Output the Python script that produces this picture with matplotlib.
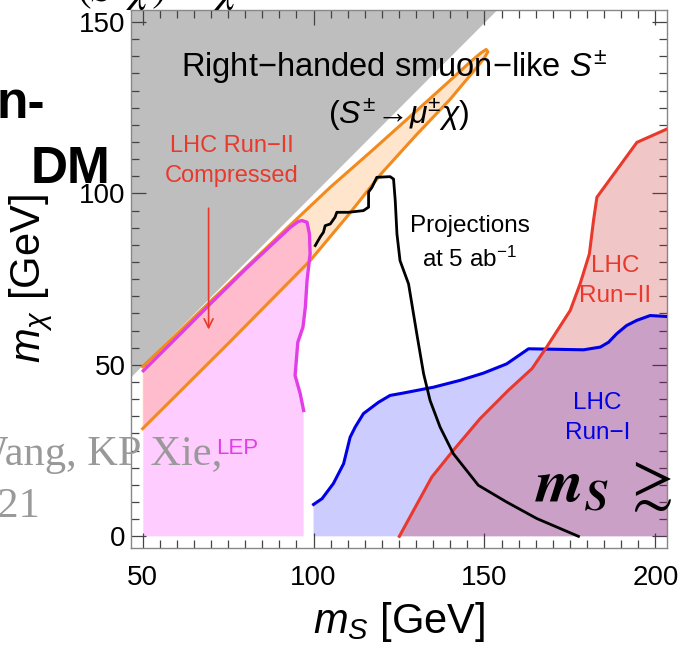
import matplotlib
matplotlib.use("Agg")
import matplotlib.pyplot as plt
from matplotlib.ticker import MultipleLocator

plt.rcParams['font.family'] = ['Liberation Sans', 'DejaVu Sans']
plt.rcParams['mathtext.fontset'] = 'custom'
plt.rcParams['mathtext.rm'] = 'Liberation Sans'
plt.rcParams['mathtext.it'] = 'Liberation Sans:italic'
plt.rcParams['mathtext.bf'] = 'Liberation Sans:bold'

# kinematic boundary m_chi = m_S (gray region above it)
diag = [40, 210]

# compressed-spectrum band (LHC Run-II compressed), upper edge then lower edge back
band_x = [50, 60, 70, 80, 93, 105, 117, 130, 140, 146, 149, 150.5,
          151.0, 150.0, 147.8, 140, 130, 120, 110, 99, 75, 50]
band_y = [49.5, 59.0, 68.7, 78.2, 90.6, 101.9, 112.4, 124.0, 133.0, 138.5, 141.0, 142.0,
          141.3, 139.6, 136.8, 127.5, 117.0, 106.0, 93.5, 80.4, 56.2, 31.4]

# LEP exclusion contour
lep_x = [50.2, 60.1, 70, 80, 93.2, 95.5, 96.6, 98.1, 98.8, 99.0, 98.1, 97.6, 96.9, 95.4, 94.6, 96.1, 97.1]
lep_y = [48.3, 58.1, 68.0, 77.8, 90.1, 91.8, 92.1, 91.6, 88.2, 82.4, 74.6, 66.8, 61.0, 56.6, 46.9, 41.6, 36.7]
lep_right = 97.1

# LHC Run-I exclusion contour
run1_x = [100.0, 102.5, 105.8, 108.8, 110.7, 112.2, 114.6, 119.0, 122.4, 126.3, 135.1, 142.9,
          149.7, 156.5, 162.9, 179.0, 183.9, 186.3, 188.7, 191.6, 194.6, 198.5, 203.4]
run1_y = [9.3, 11.0, 15.4, 21.2, 28.9, 31.9, 35.8, 39.1, 41.1, 41.8, 43.5, 45.5,
          47.6, 50.3, 54.7, 54.4, 55.2, 56.6, 59.1, 61.5, 63.0, 64.4, 64.1]

# LHC Run-II exclusion contour
run2_x = [125.1, 134.6, 140.9, 148.7, 157.0, 163.9, 168.2, 175.1, 178.0, 180.7, 181.9, 182.9, 194.6, 203.4]
run2_y = [0.0, 17.3, 25.1, 34.3, 42.6, 48.9, 55.2, 65.9, 73.7, 82.4, 92.1, 98.9, 114.9, 118.8]

# projection at 5 ab^-1
proj_x = [100.5, 102.0, 102.9, 103.4, 104.9, 106.3, 106.8, 110.2, 114.6, 116.1, 116.1, 117.1, 118.5,
          122.4, 123.4, 123.9, 124.4, 125.3, 127.8, 130.2, 132.2, 134.1, 137.0, 140.9, 148.2,
          156.5, 165.3, 177.5]
proj_y = [84.8, 87.4, 88.7, 90.6, 91.1, 93.1, 94.5, 94.5, 95.0, 96.0, 100.4, 101.8, 104.7,
          104.9, 104.2, 97.9, 88.2, 80.4, 73.6, 59.1, 47.4, 39.6, 31.9, 24.1, 14.9,
          10.0, 5.2, 0.0]

fig = plt.figure(figsize=(6.83, 6.48), dpi=100)
ax = fig.add_axes([131 / 683, 100 / 648, 536 / 683, 538 / 648])

ax.fill_between(diag, diag, 200, color='#bebebe', lw=0, zorder=1)
ax.fill(lep_x + [lep_right, lep_x[0]], lep_y + [0, 0], color=(1, 0, 1), alpha=0.2, lw=0, zorder=2)
ax.fill(band_x, band_y, color=(1, 0.5, 0), alpha=0.2, lw=0, zorder=3)
ax.fill(run1_x + [run1_x[-1], run1_x[0]], run1_y + [0, 0], color=(0, 0, 1), alpha=0.2, lw=0, zorder=2)
ax.fill(run2_x + [run2_x[-1]], run2_y + [0], color=(0.78, 0.12, 0.12), alpha=0.25, lw=0, zorder=3)

ax.plot(band_x, band_y, color='#f28a1e', lw=2.2, zorder=4)
ax.plot(lep_x, lep_y, color='#e23ee6', lw=2.4, zorder=5)
ax.plot(run1_x, run1_y, color='#0000e6', lw=2.2, zorder=5)
ax.plot(run2_x, run2_y, color='#e8392c', lw=2.2, zorder=5)
ax.plot(proj_x, proj_y, color='black', lw=2.0, zorder=6)

ax.annotate('', xy=(69.3, 59.5), xytext=(69.3, 96.5),
            arrowprops=dict(arrowstyle='->', color='#e8392c', lw=1.2, mutation_scale=16), zorder=7)

ax.text(123.4, 136.8, r'Right$-$handed smuon$-$like $S^{\pm}$', fontsize=23.5, ha='center', va='center', zorder=8)
ax.text(124.8, 123.0, r'($S^{\pm}\!\rightarrow\!\mu^{\pm}\chi$)', fontsize=23, ha='center', va='center', zorder=8)
ax.text(76, 109.5, 'LHC Run\u2212II\nCompressed', fontsize=17, color='#e8392c', ha='center', va='center',
        linespacing=1.45, zorder=8)
ax.text(145.7, 85.5, 'Projections\nat 5 ab$^{-1}$', fontsize=17.5, ha='center', va='center',
        linespacing=1.5, zorder=8)
ax.text(188.2, 74.5, 'LHC\nRun\u2212II', fontsize=17.5, color='#e8392c', ha='center', va='center',
        linespacing=1.45, zorder=8)
ax.text(183.0, 34.5, 'LHC\nRun\u2212I', fontsize=17.5, color='#0000e6', ha='center', va='center',
        linespacing=1.45, zorder=8)
ax.text(77.8, 25.5, 'LEP', fontsize=16, color='#e23ee6', ha='center', va='center', zorder=8)

ax.set_xlim(46.6, 203.4)
ax.set_ylim(-3.4, 153.5)
ax.set_xticks([50, 100, 150, 200])
ax.set_yticks([0, 50, 100, 150])
ax.xaxis.set_minor_locator(MultipleLocator(5))
ax.yaxis.set_minor_locator(MultipleLocator(5))
ax.tick_params(which='both', direction='in', top=True, right=True, color='#444444', width=0.9)
ax.tick_params(which='major', length=11, labelsize=20)
ax.tick_params(axis='x', which='major', pad=12)
ax.tick_params(axis='y', which='major', pad=4)
ax.tick_params(which='minor', length=5.5)
for sp in ax.spines.values():
    sp.set_color('#888888')
    sp.set_linewidth(1.0)

ax.set_xlabel(r'$m_S$ [GeV]', fontsize=30)
ax.set_ylabel(r'$m_\chi$ [GeV]', fontsize=30)
ax.xaxis.set_label_coords(0.5, -0.097)
ax.yaxis.set_label_coords(-0.142, 0.5)

# slide text around the figure
fig.text(45 / 683, 1 - 118 / 648, 'n-', fontsize=37, fontweight='bold', ha='right', va='baseline', zorder=10)
fig.text(110 / 683, 1 - 183 / 648, 'DM', fontsize=37, fontweight='bold', ha='right', va='baseline', zorder=10)
fig.text(222 / 683, 1 - 465 / 648, 'Wang, KP Xie,', fontsize=30.5, family='Liberation Serif',
         color='#999999', ha='right', va='baseline', zorder=10)
fig.text(40 / 683, 1 - 517 / 648, '2021', fontsize=30.5, family='Liberation Serif',
         color='#999999', ha='right', va='baseline', zorder=10)
fig.text(535 / 683, 1 - 502 / 648, r'$\mathbfit{m}_{\mathbfit{S}}\;\gtrsim100$', fontsize=44,
         math_fontfamily='stix', ha='left', va='baseline', zorder=10)
fig.text(76 / 683, 1 - 2 / 648, r'$(\bar{S}\;\;\chi)\;\cdot\;\;\chi$', fontsize=32,
         math_fontfamily='stix', ha='left', va='baseline', zorder=10)

fig.savefig('out.png', dpi=100)
